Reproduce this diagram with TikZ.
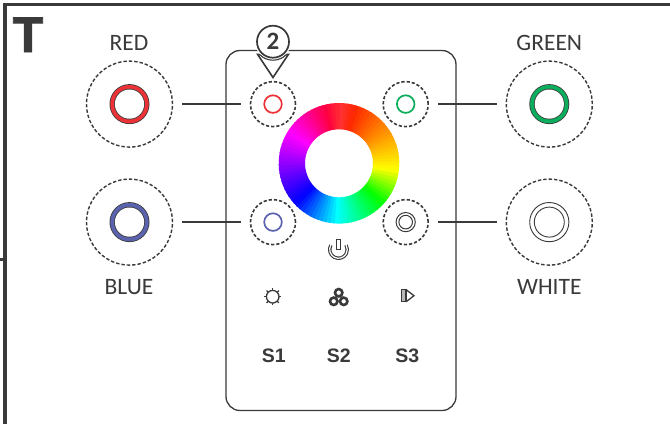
\documentclass[tikz,border=0pt]{standalone}
\usepackage{fontspec}
\setmainfont{Carlito}
\newfontfamily\boldsans{Liberation Sans}[BoldFont={Liberation Sans Bold}]
\newfontfamily\heavysans{Liberation Sans Bold}[FakeBold=1.6]
\definecolor{ink}{HTML}{3A3A3A}
\definecolor{ledred}{HTML}{EC3237}
\definecolor{ledgreen}{HTML}{0BAE5D}
\definecolor{ledblue}{HTML}{5B62AE}
\tikzset{
  x=1pt,y=-1pt,
  bigdash/.style={circle,draw=ink,line width=1.4pt,dash pattern=on 3.4pt off 2pt,minimum size=86pt,inner sep=0pt,outer sep=0pt},
  smalldash/.style={circle,draw=ink,line width=1.6pt,dash pattern=on 3.2pt off 2pt,minimum size=45pt,inner sep=0pt,outer sep=0pt},
  link/.style={draw=ink,line width=1.6pt,shorten >=9.5pt,shorten <=9.5pt},
  label/.style={anchor=base,text=ink,font=\fontsize{23.5}{23.5}\selectfont,inner sep=0pt},
  sbtn/.style={anchor=base,text=ink,font=\boldsans\bfseries\fontsize{19.5}{19.5}\selectfont,inner sep=0pt},
  icon/.style={draw=ink,line width=1.3pt},
}
\newcommand{\bigring}[3]{% position, colour
  \fill[ink] (#1,#2) circle[radius=20pt];
  \fill[#3] (#1,#2) circle[radius=19.2pt];
  \fill[ink] (#1,#2) circle[radius=15.4pt];
  \fill[white] (#1,#2) circle[radius=14.6pt];
}
\begin{document}
\begin{tikzpicture}
\useasboundingbox (0,0) rectangle (670,424);
\fill[white] (0,0) rectangle (670,424);
% frame
\fill[ink] (3.3,3.2) rectangle (670,6);
\fill[ink] (3.3,3.2) rectangle (6.8,424);
\fill[ink] (0,257.5) rectangle (6.8,260.5);
% device
\node[draw=ink,line width=1.3pt,rounded corners=14pt,minimum width=230pt,minimum height=360pt,inner sep=0pt,outer sep=0pt] (device) at (341,230.5) {};
% targets
\node[bigdash] (redO) at (129.5,104.1) {};
\node[bigdash] (greenO) at (549.3,104.1) {};
\node[bigdash] (blueO) at (129.5,222.1) {};
\node[bigdash] (whiteO) at (549.3,222.1) {};
\node[smalldash] (redS) at (273,104.1) {};
\node[smalldash] (greenS) at (405.7,104.1) {};
\node[smalldash] (blueS) at (273,222.1) {};
\node[smalldash] (whiteS) at (405.7,222.1) {};
\draw[link] (redO) -- (redS);
\draw[link] (blueO) -- (blueS);
\draw[link] (greenO) -- (greenS);
\draw[link] (whiteO) -- (whiteS);
% big rings
\bigring{129.5}{104.1}{ledred}
\bigring{549.3}{104.1}{ledgreen}
\bigring{129.5}{222.1}{ledblue}
\draw[ink,line width=.9pt] (549.3,222.1) circle[radius=19.6pt] (549.3,222.1) circle[radius=15pt];
% small rings
\draw[ledred,line width=1.7pt] (redS) circle[radius=8.8pt];
\draw[ledgreen,line width=1.7pt] (greenS) circle[radius=8.8pt];
\draw[ledblue,line width=1.7pt] (blueS) circle[radius=8.8pt];
\draw[ink,line width=1pt] (whiteS) circle[radius=9.6pt] (whiteS) circle[radius=6.8pt];
% colour wheel
\coordinate (wheel) at (339,163.3);
\begin{scope}[shift={(wheel)}]
\foreach \t in {0,4,...,356}{
  \pgfmathsetmacro{\hh}{\t<95 ? \t/95*60 : (\t<130 ? 60+(\t-95)/35*60 : (\t<180 ? 120+(\t-130)/50*60 : (\t<225 ? 180+(\t-180)/45*60 : (\t<300 ? 240+(\t-225)/75*60 : 300+(\t-300)))))}
  \pgfmathsetmacro{\lt}{max(0,0.2*(1-min(\t,360-\t)/15))}
  \pgfmathsetmacro{\rr}{max(0,min(1,abs(\hh/60-3)-1))}
  \pgfmathsetmacro{\gg}{max(0,min(1,2-abs(\hh/60-2)))}
  \pgfmathsetmacro{\nn}{max(0,min(1,2-abs(\hh/60-4)))}
  \pgfmathsetmacro{\rrr}{\rr+(1-\rr)*\lt}
  \pgfmathsetmacro{\ggg}{\gg+(1-\gg)*\lt}
  \pgfmathsetmacro{\nnn}{\nn+(1-\nn)*\lt}
  \definecolor{wc}{rgb}{\rrr,\ggg,\nnn}
  \pgfmathsetmacro{\aa}{90-\t}
  \pgfmathsetmacro{\bb}{90-\t-5}
  \fill[wc] (\aa:34pt) -- (\aa:60.3pt) -- (\bb:60.3pt) -- (\bb:34pt) -- cycle;
}
\end{scope}
% marker
\node[draw=none,inner sep=0pt,minimum size=32pt,circle] (two) at (273,41.7) {};
\coordinate (apex) at (273,77.5);
\coordinate (tl) at (257.7,54.5);
\coordinate (tr) at (288.3,54.5);
\draw[ink,line width=1.6pt,line join=miter,fill=white] (tl) -- (apex) -- (tr) -- cycle;
\fill[white] (two.center) circle[radius=18pt];
\draw[ink,line width=1.1pt] (two.center) ++(226:18.5pt) arc[start angle=226,end angle=314,radius=18.5pt];
\draw[ink,line width=1.7pt,fill=white] (two.center) circle[radius=16pt];
\node[text=ink,inner sep=0pt,font=\bfseries\fontsize{25}{25}\selectfont] at (two.center) {2};
% labels
\node[anchor=base,text=ink,inner sep=0pt,font=\heavysans\fontsize{50}{50}\selectfont] (tee) at (28,52) {T};
\node[label] (lred) at (129,50) {RED};
\node[label] (lgreen) at (549.3,50) {GREEN};
\node[label] (lblue) at (129,294) {BLUE};
\node[label] (lwhite) at (549.3,294) {WHITE};
\node[sbtn] (s1) at (273.7,362.3) {S1};
\node[sbtn] (s2) at (338.7,362.3) {S2};
\node[sbtn] (s3) at (407.3,362.3) {S3};
% power icon
\coordinate (pw) at (338.5,249.5);
\draw[ink,line width=1.1pt,double=white,double distance=1.2pt] (pw) ++(150:8.8pt) arc[start angle=150,end angle=390,radius=8.8pt];
\draw[icon,fill=white] (336.4,239.5) rectangle (340.4,249.5);
% sun icon
\coordinate (sun) at (272.7,296.7);
\draw[icon] (sun) circle[radius=6.3pt];
\foreach \a in {0,45,...,315}{
  \draw[ink,line width=1.2pt] (sun) ++(\a:6.3pt) -- ++(\a:2.4pt);
}
% three circles icon
\draw[ink,line width=2.6pt] (338.7,292.7) circle[radius=3.7pt] (333.7,301.3) circle[radius=3.7pt] (343.7,301.3) circle[radius=3.7pt];
% play icon
\draw[icon,fill=gray!55] (401.5,289.6) rectangle (406,301.8);
\draw[icon,line join=miter] (406,289.6) -- (414,295.7) -- (406,301.8);
\end{tikzpicture}
\end{document}
